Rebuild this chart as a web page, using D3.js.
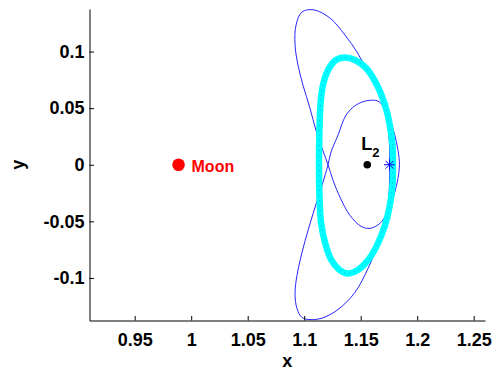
<!DOCTYPE html>
<html>
<head>
<meta charset="utf-8">
<script src="https://cdn.jsdelivr.net/npm/d3@7"></script>
<style>
  html, body { margin: 0; padding: 0; background: #fff; }
  svg { display: block; font-family: 'Liberation Sans', Arial, Helvetica, sans-serif; }
</style>
</head>
<body>
<div id="chart"></div>
<script>
// ── Data ───────────────────────────────────────────────────────────────────
const xTicks = [0.95, 1, 1.05, 1.1, 1.15, 1.2, 1.25]
const xTickLabels = ['0.95', '1', '1.05', '1.1', '1.15', '1.2', '1.25']
const yTicks = [-0.1, -0.05, 0, 0.05, 0.1]
const yTickLabels = ['-0.1', '-0.05', '0', '0.05', '0.1']

// thin blue trajectory (closed, starts at the * point)
const trajX = [1.1755, 1.1755, 1.1733, 1.1706, 1.1653, 1.1556, 1.1458, 1.1370, 1.1299, 1.1237,
  1.1211, 1.1158, 1.1096, 1.1034, 1.0981, 1.0936, 1.0919, 1.0936, 1.0981, 1.1051,
  1.1158, 1.1299, 1.1449, 1.1565, 1.1653, 1.1733, 1.1795, 1.1830, 1.1843, 1.1830,
  1.1795, 1.1733, 1.1653, 1.1565, 1.1467, 1.1361, 1.1228, 1.1087, 1.0981, 1.0928,
  1.0919, 1.0945, 1.0989, 1.1051, 1.1104, 1.1158, 1.1211, 1.1255, 1.1317, 1.1405,
  1.1503, 1.1582, 1.1670, 1.1724, 1.1750, 1.1755]
const trajY = [0.0000, 0.0173, 0.0394, 0.0500, 0.0562, 0.0566, 0.0527, 0.0438, 0.0261, 0.0111,
  0.0000, -0.0181, -0.0376, -0.0580, -0.0774, -0.0978, -0.1137, -0.1270, -0.1350, -0.1368,
  -0.1355, -0.1279, -0.1128, -0.0916, -0.0712, -0.0491, -0.0270, -0.0119, 0.0000, 0.0128,
  0.0288, 0.0482, 0.0659, 0.0819, 0.0996, 0.1146, 0.1296, 0.1368, 0.1350, 0.1235,
  0.1058, 0.0881, 0.0704, 0.0500, 0.0305, 0.0146, 0.0000, -0.0137, -0.0288, -0.0447,
  -0.0544, -0.0562, -0.0518, -0.0438, -0.0270, -0.0093]

// thick cyan orbit
const orbitX = [1.1786, 1.1781, 1.1758, 1.1715, 1.1644, 1.1547, 1.1449, 1.1361, 1.1281, 1.1211,
  1.1166, 1.1144, 1.1135, 1.1131, 1.1135, 1.1149, 1.1184, 1.1237, 1.1308, 1.1379,
  1.1467, 1.1556, 1.1644, 1.1715, 1.1758, 1.1781]
const orbitY = [0.0000, 0.0173, 0.0350, 0.0527, 0.0704, 0.0854, 0.0925, 0.0947, 0.0925, 0.0836,
  0.0704, 0.0527, 0.0305, 0.0000, -0.0270, -0.0509, -0.0686, -0.0836, -0.0925, -0.0960,
  -0.0934, -0.0854, -0.0712, -0.0535, -0.0358, -0.0181]

const moon = { name: 'Moon', x: 0.9888, y: 0 }
const l2 = { name: 'L', sub: '2', x: 1.1558, y: 0 }
const startPoint = { x: 1.1755, y: 0 }

// ── Layout ─────────────────────────────────────────────────────────────────
const WIDTH = 496
const HEIGHT = 373
const X_RANGE = [89.5, 485]
const Y_RANGE = [320.5, 9]

const x = d3.scaleLinear().domain([0.91, 1.26]).range(X_RANGE)
const y = d3.scaleLinear().domain([-0.1376, 0.1376]).range(Y_RANGE)

const svg = d3.select('#chart')
  .append('svg')
  .attr('width', WIDTH)
  .attr('height', HEIGHT)

// ── Curves ─────────────────────────────────────────────────────────────────
const line = d3.line()
  .x(d => x(d[0]))
  .y(d => y(d[1]))
  .curve(d3.curveCatmullRomClosed.alpha(0.5))

const traj = d3.zip(trajX, trajY)
const orbit = d3.zip(orbitX, orbitY)

svg.append('path')
  .datum(traj)
  .attr('d', line)
  .attr('fill', 'none')
  .attr('stroke', '#2626ff')
  .attr('stroke-width', 1)

svg.append('path')
  .datum(orbit)
  .attr('d', line)
  .attr('fill', 'none')
  .attr('stroke', '#00ffff')
  .attr('stroke-width', 6.5)

// faint dotted trace inside the cyan band
svg.append('path')
  .datum(orbit)
  .attr('d', line)
  .attr('fill', 'none')
  .attr('stroke', '#3a3aff')
  .attr('stroke-width', 0.8)
  .attr('stroke-dasharray', '1,4')
  .attr('opacity', 0.55)

// ── Axes (MATLAB style, ticks inside, no box) ──────────────────────────────
const fontSize = 18

const xAxis = svg.append('g')
  .attr('transform', `translate(0,${Y_RANGE[0]})`)
  .call(d3.axisBottom(x)
    .tickValues(xTicks)
    .tickFormat((d, i) => xTickLabels[i])
    .tickSizeInner(-4.5)
    .tickSizeOuter(0)
    .tickPadding(12.5))

const yAxis = svg.append('g')
  .attr('transform', `translate(${X_RANGE[0]},0)`)
  .call(d3.axisLeft(y)
    .tickValues(yTicks)
    .tickFormat((d, i) => yTickLabels[i])
    .tickSizeInner(-4.5)
    .tickSizeOuter(0)
    .tickPadding(5))

;[xAxis, yAxis].forEach(a => {
  a.selectAll('path, line').attr('stroke', '#000').attr('stroke-width', 1)
  a.selectAll('text')
    .attr('fill', '#000')
    .style('font-size', fontSize + 'px')
    .style('font-weight', 'bold')
    .attr('font-family', "'Liberation Sans', Arial, sans-serif")
})

svg.append('text')
  .attr('x', (X_RANGE[0] + X_RANGE[1]) / 2)
  .attr('y', 367)
  .attr('text-anchor', 'middle')
  .style('font-size', fontSize + 'px')
  .style('font-weight', 'bold')
  .text('x')

svg.append('text')
  .attr('transform', `translate(23.5,${(Y_RANGE[0] + Y_RANGE[1]) / 2}) rotate(-90)`)
  .attr('text-anchor', 'middle')
  .style('font-size', fontSize + 'px')
  .style('font-weight', 'bold')
  .text('y')

// ── Moon ───────────────────────────────────────────────────────────────────
svg.append('circle')
  .attr('cx', x(moon.x))
  .attr('cy', y(moon.y))
  .attr('r', 6.3)
  .attr('fill', '#ff0000')

svg.append('text')
  .attr('x', x(moon.x) + 13)
  .attr('y', y(moon.y) + 7.2)
  .attr('fill', '#ff0000')
  .style('font-size', '16px')
  .style('font-weight', 'bold')
  .text(moon.name)

// ── L2 ─────────────────────────────────────────────────────────────────────
svg.append('circle')
  .attr('cx', x(l2.x))
  .attr('cy', y(l2.y))
  .attr('r', 3.8)
  .attr('fill', '#000')

const l2Label = svg.append('text')
  .attr('x', x(l2.x) - 6)
  .attr('y', y(l2.y) - 14.5)
  .attr('fill', '#000')
  .style('font-size', '18px')
  .style('font-weight', 'bold')
l2Label.append('tspan').text(l2.name)
l2Label.append('tspan').attr('dy', 6.5).style('font-size', '13px').text(l2.sub)

// ── Start point (*) ────────────────────────────────────────────────────────
const star = d3.path()
const R = 5.5
for (let k = 0; k < 4; k++) {
  const a = k * Math.PI / 4
  star.moveTo(-R * Math.cos(a), -R * Math.sin(a))
  star.lineTo(R * Math.cos(a), R * Math.sin(a))
}
svg.append('path')
  .attr('d', star.toString())
  .attr('transform', `translate(${x(startPoint.x)},${y(startPoint.y)})`)
  .attr('fill', 'none')
  .attr('stroke', '#0000ff')
  .attr('stroke-width', 1)
</script>
</body>
</html>
